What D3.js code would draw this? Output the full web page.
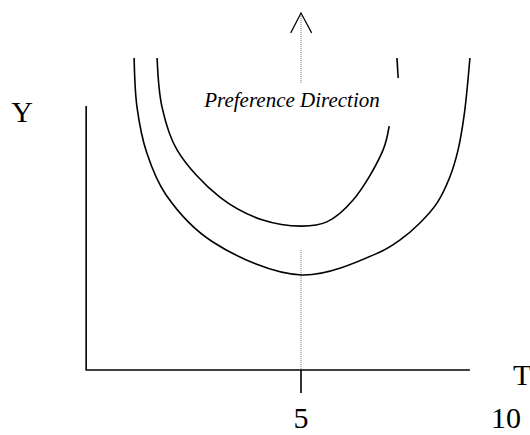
<!DOCTYPE html>
<html lang="en">
  <head>
    <meta charset="UTF-8" />
    <title>Preference Direction</title>
    <script src="https://d3js.org/d3.v7.min.js"></script>
    <style>
      body { margin: 0; background: #fff; }
      text { font-family: "Liberation Serif", "Times New Roman", serif; fill: #000; }
    </style>
  </head>
  <body>
    <svg width="530" height="435"></svg>

    <script>
      // outer indifference curve (T, Y)
      const outerCurve = [
        [0.93, 11.82], [1.0, 9.96], [1.24, 8.22], [1.71, 6.63], [2.85, 4.85],
        [5.02, 3.6], [6.93, 4.47], [7.41, 4.92], [7.9, 5.57], [8.32, 6.33],
        [8.63, 7.31], [8.83, 8.33], [8.98, 9.66], [9.12, 11.82]
      ];
      // inner curve, broken near the top right
      const innerCurve = [
        [1.49, 11.82], [1.61, 9.96], [1.98, 8.33], [3.02, 6.55], [4.07, 5.68],
        [5.02, 5.45], [5.63, 5.61], [6.27, 6.44], [7.0, 8.33], [7.15, 9.24]
      ];
      const innerTail = [[7.34, 11.82], [7.37, 11.06]];

      const tickValues = [5];
      const tickLabels = ["5", "10"];
      const tickLabelPos = [5, 10];
      const prefX = 5;

      const svg = d3.select("svg");
      const x = d3.scaleLinear().domain([0, 10]).range([96, 506]);
      const y = d3.scaleLinear().domain([0, 10]).range([370, 106]);

      const line = d3.line()
        .x((d) => x(d[0]))
        .y((d) => y(d[1]))
        .curve(d3.curveCatmullRom.alpha(0.5));

      // dotted guide through the minimum
      svg.append("line")
        .attr("x1", x(prefX)).attr("x2", x(prefX))
        .attr("y1", y(4.55)).attr("y2", y(0))
        .style("stroke", "#777")
        .style("stroke-width", 1)
        .style("stroke-dasharray", "1,1");

      // preference direction arrow
      svg.append("line")
        .attr("x1", x(prefX)).attr("x2", x(prefX))
        .attr("y1", y(10.87)).attr("y2", y(13.52))
        .style("stroke", "#777")
        .style("stroke-width", 1)
        .style("stroke-dasharray", "1,1");
      svg.append("path")
        .attr("d", d3.line()([
          [x(prefX - 0.25), y(12.77)],
          [x(prefX), y(13.52)],
          [x(prefX + 0.26), y(12.77)]
        ]))
        .style("fill", "none")
        .style("stroke", "#000")
        .style("stroke-width", 1.2);

      svg.append("text")
        .attr("x", x(4.78))
        .attr("y", y(9.96))
        .style("font-size", "21px")
        .style("font-style", "italic")
        .style("text-anchor", "middle")
        .text("Preference Direction");

      // curves
      [outerCurve, innerCurve, innerTail].forEach((c) => {
        svg.append("path")
          .attr("d", line(c))
          .style("fill", "none")
          .style("stroke", "#000")
          .style("stroke-width", 1.6);
      });

      // axes
      svg.append("path")
        .attr("d", d3.line()([
          [x(-0.24), y(10)],
          [x(-0.24), y(0)],
          [x(9.12), y(0)]
        ]))
        .style("fill", "none")
        .style("stroke", "#000")
        .style("stroke-width", 1.6);

      tickValues.forEach((v) => {
        svg.append("line")
          .attr("x1", x(v)).attr("x2", x(v))
          .attr("y1", y(0)).attr("y2", y(-0.87))
          .style("stroke", "#000")
          .style("stroke-width", 1.6);
      });

      tickLabels.forEach((t, i) => {
        svg.append("text")
          .attr("x", x(tickLabelPos[i]))
          .attr("y", y(-2.2))
          .style("font-size", "30px")
          .style("text-anchor", "middle")
          .text(t);
      });

      svg.append("text")
        .attr("x", x(10.17))
        .attr("y", y(-0.57))
        .style("font-size", "30px")
        .text("T");

      svg.append("text")
        .attr("x", x(-1.8))
        .attr("y", y(9.39))
        .style("font-size", "30px")
        .style("text-anchor", "middle")
        .text("Y");
    </script>
  </body>
</html>
